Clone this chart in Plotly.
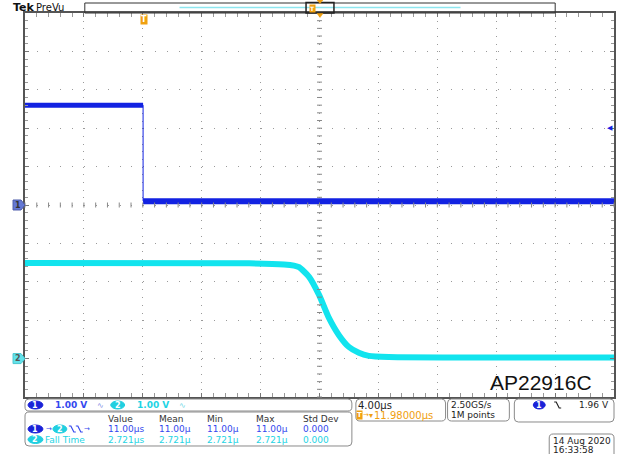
import plotly.graph_objects as go

# ---------------- data (time in µs, volts) ----------------
ch1_t = [-8.02, 0.0, 0.0, 31.98]
ch1_v = [2.60, 2.60, 0.10, 0.10]
ch2_t = [-8.02, 7.21, 9.58, 10.25, 10.59, 11.27, 11.95, 12.62, 13.30, 13.98, 14.65, 15.33, 16.68, 31.98]
ch2_v = [2.49, 2.48, 2.45, 2.42, 2.38, 2.13, 1.66, 1.06, 0.61, 0.30, 0.15, 0.07, 0.04, 0.03]

time_range = [-8.02, 31.98]      # 4 µs/div, 10 div, trigger at 0
time_per_div = 4.0
ch1_range = [-5, 5]              # 1 V/div, ch1 offset 0 div
ch2_range = [-1, 9]              # 1 V/div, ch2 offset -4 div
volts_per_div = 1.0
trig_level = 1.96

meas_headers = ["Value", "Mean", "Min", "Max", "Std Dev"]
meas_row1 = ["11.00µs", "11.00µ", "11.00µ", "11.00µ", "0.000"]
meas_row2 = ["2.721µs", "2.721µ", "2.721µ", "2.721µ", "0.000"]
meas_cols_px = [107, 158, 207, 256, 303]

C1 = "#1222e2"
C2 = "#12e4ee"
C1T = "#3448ee"
C2T = "#1ed4e4"
ORANGE = "#f0a010"
FONT = "DejaVu Sans"

W, H = 626, 454
L, R, T, B = 25, 10, 13, 57
PW, PH = W - L - R, H - T - B


def px(x):
    return (x - L) / PW


def py(y):
    return (H - B - y) / PH


fig = go.Figure()
fig.add_trace(go.Scatter(x=ch1_t, y=ch1_v, mode="lines", line=dict(color=C1, width=1),
                         hoverinfo="skip", showlegend=False))
fig.add_trace(go.Scatter(x=ch1_t[:2], y=ch1_v[:2], mode="lines", line=dict(color=C1, width=5),
                         hoverinfo="skip", showlegend=False))
fig.add_trace(go.Scatter(x=ch1_t[2:], y=ch1_v[2:], mode="lines", line=dict(color=C1, width=6),
                         hoverinfo="skip", showlegend=False))
fig.add_trace(go.Scatter(x=ch2_t, y=ch2_v, mode="lines", yaxis="y2",
                         line=dict(color=C2, width=6, shape="spline", smoothing=0.6),
                         hoverinfo="skip", showlegend=False))

shapes = []
annotations = []


def rrect(x0, y0, x1, y1, r=4, color="#8a8a8a", width=1):
    pts = [("M", x0 + r, y0), ("L", x1 - r, y0), ("Q", x1, y0, x1, y0 + r), ("L", x1, y1 - r),
           ("Q", x1, y1, x1 - r, y1), ("L", x0 + r, y1), ("Q", x0, y1, x0, y1 - r),
           ("L", x0, y0 + r), ("Q", x0, y0, x0 + r, y0)]
    s = ""
    for p in pts:
        cmd = p[0]
        coords = p[1:]
        parts = []
        for i in range(0, len(coords), 2):
            parts.append("%.5f,%.5f" % (px(coords[i]), py(coords[i + 1])))
        s += cmd + " ".join(parts) + " "
    s += "Z"
    shapes.append(dict(type="path", path=s, xref="paper", yref="paper",
                       line=dict(color=color, width=width)))


def txt(x, y, s, color="#222", size=9, anchor="left", bold=False, family=FONT, **kw):
    if bold:
        s = "<b>" + s + "</b>"
    annotations.append(dict(x=px(x), y=py(y), xref="paper", yref="paper", text=s,
                            showarrow=False, xanchor=anchor, yanchor="middle",
                            font=dict(color=color, size=size, family=family),
                            borderpad=0, **kw))


def badge(x0, x1, yc, label, fill, h=8):
    shapes.append(dict(type="circle", xref="paper", yref="paper",
                       x0=px(x0), x1=px(x1), y0=py(yc + h / 2), y1=py(yc - h / 2),
                       fillcolor=fill, line=dict(color=fill, width=1)))
    txt((x0 + x1) / 2, yc, label, color="white", size=8, anchor="center", bold=True)


def edge(x, y, color):
    path = "M%.5f,%.5f L%.5f,%.5f L%.5f,%.5f L%.5f,%.5f" % (
        px(x), py(y - 3), px(x + 2), py(y - 3), px(x + 5), py(y + 3), px(x + 7), py(y + 3))
    shapes.append(dict(type="path", path=path, xref="paper", yref="paper",
                       line=dict(color=color, width=1.2)))


def tri_down(xc, ytop, w, h, color):
    path = "M%.5f,%.5f L%.5f,%.5f L%.5f,%.5f Z" % (
        px(xc - w / 2), py(ytop), px(xc + w / 2), py(ytop), px(xc), py(ytop + h))
    shapes.append(dict(type="path", path=path, xref="paper", yref="paper",
                       fillcolor=color, line=dict(color=color, width=0.5)))


def line_px(x0, y0, x1, y1, color, width=1, dash=None):
    d = dict(type="line", xref="paper", yref="paper", x0=px(x0), y0=py(y0), x1=px(x1), y1=py(y1),
             line=dict(color=color, width=width))
    if dash:
        d["line"]["dash"] = dash
    shapes.append(d)


# ---- center crosshair tick marks ----
cx, cy = L + PW / 2, T + PH / 2
for k in range(51):
    yy = T + k * PH / 50
    line_px(cx - 2.5, yy, cx + 2.5, yy, "#888")
    xx = L + k * PW / 50
    line_px(xx, cy - 2.5, xx, cy + 2.5, "#888")

# ---- top bar ----
txt(12, 7, "Tek", color="#111", size=11, bold=True)
txt(35, 7, "PreVu", color="#111", size=10)
shapes.append(dict(type="rect", xref="paper", yref="paper", x0=px(85), x1=px(557), y0=py(13), y1=py(3),
                   line=dict(color="#333", width=1)))
line_px(180, 7.5, 462, 7.5, "#8de6ef", width=1.5)
shapes.append(dict(type="rect", xref="paper", yref="paper", x0=px(307), x1=px(335), y0=py(13), y1=py(2.5),
                   line=dict(color="#222", width=1.5)))
txt(313, 8, "T", color="white", size=6, anchor="center", bold=True, bgcolor=ORANGE)
tri_down(321, 0, 6, 3.5, ORANGE)
tri_down(321, 13.5, 6, 4, ORANGE)

# trigger marker in grid
txt(144, 20, "T", color="white", size=8, anchor="center", bold=True, bgcolor=ORANGE)
# trigger level arrow
txt(612, 128, "◀", color=C1, size=7, anchor="center")

# channel ground markers
shapes.append(dict(type="path", xref="paper", yref="paper",
                   path="M%.5f,%.5f L%.5f,%.5f L%.5f,%.5f L%.5f,%.5f L%.5f,%.5f Z" % (
                       px(13), py(200), px(21), py(200), px(25), py(205), px(21), py(210), px(13), py(210)),
                   fillcolor="#6478d4", line=dict(color="#4a5aa8", width=1)))
txt(17.5, 205, "1", color="#333", size=8, anchor="center", bold=True)
shapes.append(dict(type="path", xref="paper", yref="paper",
                   path="M%.5f,%.5f L%.5f,%.5f L%.5f,%.5f L%.5f,%.5f L%.5f,%.5f Z" % (
                       px(13), py(353.6), px(21), py(353.6), px(25), py(358.6), px(21), py(363.6), px(13), py(363.6)),
                   fillcolor="#62e2ea", line=dict(color="#49c6cf", width=1)))
txt(17.5, 358.6, "2", color="#555", size=8, anchor="center", bold=True)

# AP22916C label
txt(491, 382, "AP22916C", color="#111", size=21, family="Liberation Sans")

# ---- bottom boxes ----
rrect(25, 399, 353, 411)
badge(28, 43, 405, "1", "#1a22d8")
txt(54, 405, "%.2f V" % volts_per_div, color=C1T, size=9, bold=True)
txt(101, 405, "∿", color="#7f8fe6", size=8, anchor="center")
badge(111, 125, 405, "2", "#20cfe0")
txt(136, 405, "%.2f V" % volts_per_div, color=C2T, size=9, bold=True)
txt(183, 405, "∿", color="#70d8e6", size=8, anchor="center")

rrect(25, 412, 353, 446)
for h, xx in zip(meas_headers, meas_cols_px):
    txt(xx, 418.5, h, color="#333", size=9)
badge(28, 43, 429, "1", "#1a22d8")
txt(49, 429, "→", color=C1T, size=7, anchor="center")
badge(53, 67, 429, "2", "#20cfe0")
edge(69, 429, C1T)
edge(76, 429, C1T)
txt(87, 429, "→", color=C1T, size=7, anchor="center")
for v, xx in zip(meas_row1, meas_cols_px):
    txt(xx, 429, v, color=C1T, size=9)
badge(28, 43, 439.5, "2", "#20cfe0")
txt(44, 439.5, "Fall Time", color=C2T, size=9)
for v, xx in zip(meas_row2, meas_cols_px):
    txt(xx, 439.5, v, color=C2T, size=9)

rrect(357, 399, 447, 421)
txt(358, 405, "%.2fµs" % time_per_div, color="#222", size=10)
txt(361, 415, "T", color="white", size=7, anchor="center", bold=True, bgcolor=ORANGE)
txt(367.5, 415, "→", color=ORANGE, size=7, anchor="center")
txt(372, 415, "▾", color=ORANGE, size=8, anchor="center")
txt(374, 415, "%.5fµs" % (time_range[0] + 5 * time_per_div), color=ORANGE, size=10)

rrect(449, 399, 511, 421)
txt(451, 405, "2.50GS/s", color="#222", size=9)
txt(451, 415, "1M points", color="#222", size=9)

rrect(516, 399, 616, 422)
badge(535, 547, 405, "1", "#1a22d8")
edge(556, 405, "#222")
txt(612, 405, "%.2f V" % trig_level, color="#222", size=9, anchor="right")

rrect(551, 434, 616, 458)
txt(554, 440.5, "14 Aug 2020", color="#222", size=9)
txt(554, 449.5, "16:33:58", color="#222", size=9)

fig.update_layout(
    width=W, height=H,
    margin=dict(l=L, r=R, t=T, b=B, pad=0),
    paper_bgcolor="white", plot_bgcolor="white",
    showlegend=False,
    xaxis=dict(range=time_range, tick0=time_range[0], dtick=time_per_div,
               showgrid=True, gridcolor="#9a9a9a", gridwidth=1, griddash="1px,6.68px",
               zeroline=False, showticklabels=False,
               ticks="inside", ticklen=4, tickcolor="#777",
               minor=dict(tick0=time_range[0], dtick=time_per_div / 5, ticks="inside", ticklen=3,
                          tickcolor="#999", showgrid=False),
               showline=True, linecolor="#555", linewidth=1.5, mirror="allticks", fixedrange=True),
    yaxis=dict(range=ch1_range, tick0=0, dtick=volts_per_div,
               showgrid=True, gridcolor="#9a9a9a", gridwidth=1, griddash="1px,10.82px",
               zeroline=False, showticklabels=False,
               ticks="inside", ticklen=4, tickcolor="#777",
               minor=dict(tick0=0, dtick=volts_per_div / 5, ticks="inside", ticklen=3,
                          tickcolor="#999", showgrid=False),
               showline=True, linecolor="#555", linewidth=1.5, mirror="allticks", fixedrange=True),
    yaxis2=dict(range=ch2_range, overlaying="y", visible=False, fixedrange=True),
    shapes=shapes,
    annotations=annotations,
)

fig.write_html("out.html", config={"displayModeBar": False},
               post_script="document.body.style.margin='0';")
